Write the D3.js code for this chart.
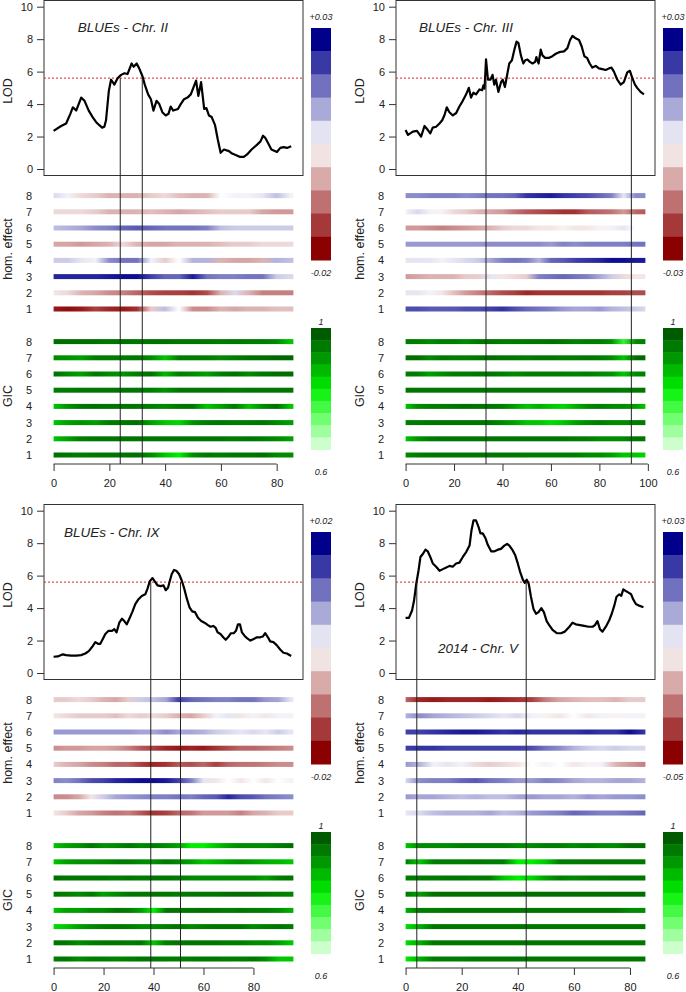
<!DOCTYPE html>
<html><head><meta charset="utf-8">
<script src="https://cdn.jsdelivr.net/npm/d3@7"></script>
<style>body{margin:0;background:#fff}svg{display:block}text{font-family:"Liberation Sans",Arial,sans-serif;fill:#222}</style>
</head><body><svg id="c" width="686" height="992"></svg>
<script>
// ---------------- DATA ----------------
const panelTitles = ["BLUEs - Chr. II", "BLUEs - Chr. III", "BLUEs - Chr. IX", "2014 - Chr. V"];
const chrLength = [86, 99, 96, 85.5];
const xTickValues = [[0,20,40,60,80],[0,20,40,60,80,100],[0,20,40,60,80],[0,20,40,60,80]];
const lodTicks = [0,2,4,6,8,10];
const rowLabels = [1,2,3,4,5,6,7,8];
const lodThreshold = 5.6;
const markerPos = [[23.9,31.8],[33.2,93.2],[38.9,50.8],[4.0,43.0]];
const legendMaxLabel = ["+0.03","+0.03","+0.02","+0.03"];
const legendMinLabel = ["-0.02","-0.03","-0.02","-0.05"];
const gicLegendLabels = ["1","0.6"];

const lodPosII = [0,2.7,4.5,6.0,6.9,8.1,9.0,9.9,11.1,12.6,14.0,15.2,16.4,17.4,18.2,18.8,19.8,20.6,21.8,23.0,24.2,25.4,26.5,28.0,28.7,29.8,30.7,31.9,32.7,33.9,34.9,35.8,36.9,37.9,39.0,40.2,41.2,42.0,42.9,44.6,45.6,46.8,48.0,49.2,50.1,51.1,51.9,52.9,54.0,54.8,55.7,56.7,57.9,58.9,59.9,61.1,62.9,64.0,65.5,66.7,68.2,69.4,71.0,73.0,74.2,75.1,76.0,76.9,78.1,80.1,81.3,82.5,83.7,85.2];
const lodValII = [2.35,2.65,2.8,3.4,3.8,3.6,4.0,4.4,4.2,3.6,3.2,2.9,2.7,2.55,2.6,3.0,4.8,5.5,5.2,5.6,5.8,5.9,5.85,6.5,6.3,6.5,6.2,5.7,5.2,4.6,4.3,3.6,4.2,4.0,3.5,3.3,3.4,3.85,3.6,3.7,4.0,4.3,4.4,4.6,5.0,5.45,4.5,5.35,3.7,3.75,3.3,3.2,2.7,1.8,1.0,1.2,1.1,0.95,0.85,0.75,0.75,0.9,1.2,1.5,1.7,2.05,1.9,1.6,1.2,1.05,1.3,1.35,1.3,1.4];

const lodPosIII = [0,1.0,3.0,4.7,6.4,7.8,9.2,10.2,11.2,12.6,14.0,15.1,16.0,17.0,18.1,19.5,20.9,22.2,23.6,25.0,26.1,27.0,28.0,29.1,30.5,31.6,32.1,32.6,33.2,34.0,35.0,35.9,36.6,37.3,38.3,39.4,40.1,41.0,41.8,42.8,43.9,44.9,45.8,46.6,47.6,48.6,49.4,50.3,51.3,52.4,53.5,54.0,54.9,55.8,56.5,57.6,59.3,60.6,62.0,63.4,65.4,66.8,67.9,68.9,70.2,71.6,72.7,73.8,74.9,76.0,77.1,78.5,79.8,81.2,82.6,84.0,85.0,86.0,87.4,88.8,90.1,91.5,92.6,93.6,94.7,95.6,97.0,98.4];
const lodValIII = [2.4,2.1,2.3,2.35,1.99,2.65,2.4,2.2,2.55,2.6,2.8,3.0,3.3,3.8,3.5,3.3,3.45,3.85,4.2,4.6,5.0,4.4,4.7,4.6,4.9,4.85,5.15,4.95,6.75,5.5,5.5,5.8,5.2,5.5,4.75,5.35,5.5,5.05,5.7,6.5,6.7,7.35,7.85,7.75,7.0,6.5,6.7,6.75,6.6,6.5,6.6,6.9,6.5,7.35,7.0,6.85,6.85,6.95,7.1,7.2,7.25,7.45,7.95,8.2,8.05,7.95,7.55,6.95,6.85,6.5,6.25,6.35,6.2,6.15,6.1,6.2,6.25,6.0,5.5,5.2,5.35,5.95,6.05,5.6,5.2,5.0,4.75,4.6];

const lodPosIX = [0,1.7,3.7,5.0,7.0,9.0,11.0,12.7,14.1,15.4,16.7,17.8,18.7,19.7,20.7,22.0,23.4,24.3,25.2,26.3,27.4,28.3,29.3,30.5,31.6,32.7,34.0,35.3,36.7,37.6,38.5,39.6,40.5,41.6,42.9,44.0,44.9,45.8,46.5,47.3,48.2,49.1,50.2,51.3,52.3,53.4,54.4,55.5,56.6,57.8,59.1,60.4,61.8,62.8,63.9,64.8,65.7,66.8,67.9,68.9,70.1,71.0,72.1,73.0,73.8,74.6,75.4,76.4,77.4,78.8,80.1,81.4,82.7,83.8,84.7,85.8,86.7,88.0,89.4,90.7,92.0,93.4,95.1];
const lodValIX = [1.0,1.02,1.15,1.1,1.07,1.07,1.1,1.2,1.35,1.6,1.9,1.8,1.8,2.1,2.4,2.6,2.6,2.7,2.5,3.1,3.35,3.2,3.0,3.4,3.8,4.25,4.55,4.75,4.85,5.2,5.65,5.85,5.65,5.4,5.35,5.4,5.1,5.25,5.65,6.1,6.35,6.3,6.1,5.7,5.2,4.55,4.05,3.8,3.75,3.4,3.2,3.1,2.95,2.85,2.9,2.8,2.5,2.4,2.2,2.05,2.25,2.45,2.45,2.6,3.0,3.0,2.5,2.3,2.15,2.0,2.1,2.2,2.2,2.25,2.45,2.2,1.95,1.9,1.7,1.45,1.25,1.2,1.05];

const lodPosV = [0,1.2,2.3,3.0,3.8,4.6,5.3,6.2,7.1,7.9,8.8,9.7,10.9,12.1,13.3,14.5,15.7,16.8,18.0,19.2,20.4,21.6,22.8,23.5,24.2,25.1,26.0,26.7,27.5,28.5,29.3,30.5,31.7,32.9,34.0,35.2,36.2,37.0,38.2,39.1,40.0,40.8,41.8,42.5,43.2,43.9,44.7,45.6,46.5,47.4,48.4,49.3,50.3,51.2,52.4,53.9,55.4,56.8,58.4,59.5,60.7,62.2,63.7,65.2,66.7,67.5,68.4,69.3,70.2,71.4,72.6,73.5,74.4,75.2,76.2,76.9,77.6,78.5,79.5,80.4,81.1,82.1,83.3,84.8];
const lodValV = [3.4,3.4,3.85,4.45,5.5,6.3,7.15,7.35,7.6,7.5,7.15,6.75,6.55,6.3,6.4,6.5,6.6,6.55,6.75,6.8,7.15,7.45,7.85,8.8,9.4,9.4,9.0,8.6,8.6,8.3,7.9,7.5,7.5,7.6,7.65,7.85,7.95,7.85,7.55,7.25,6.75,6.25,5.75,5.55,5.75,5.5,4.7,3.95,3.65,3.75,4.0,3.75,3.2,2.95,2.65,2.45,2.45,2.55,2.85,3.1,3.0,2.95,2.9,2.85,2.85,2.95,3.2,2.7,2.55,2.85,3.25,3.65,4.15,4.7,4.85,4.75,5.15,5.05,4.95,4.85,4.55,4.25,4.15,4.05];

// strip sample positions (cM)
const stripPosII  = [0,5,10,15,20,25,30,35,40,45,50,55,60,65,70,75,80,85];
const stripPosIII = [0,5,10,15,20,25,30,35,40,45,50,55,60,65,70,75,80,85,90,95,99];
const stripPosIX  = [0,5,10,15,20,25,30,35,40,45,50,55,60,65,70,75,80,85,90,95];
const stripPosV   = [0,5,10,15,20,25,30,35,40,45,50,55,60,65,70,75,80,85];

// homozygous effect, relative to legend range (-1 .. +1), rows 1..8
const homII = [
 [-0.9,-0.95,-0.9,-0.75,-0.85,-0.9,-0.8,-0.2,0.25,0,-0.45,-0.45,-0.3,-0.35,-0.3,-0.3,-0.25,-0.25],
 [-0.1,-0.15,-0.3,-0.35,-0.45,-0.5,-0.6,-0.7,-0.75,-0.75,-0.8,-0.7,-0.3,0.15,-0.3,-0.5,-0.5,-0.5],
 [0.85,0.85,0.85,0.85,0.9,0.95,0.95,0.75,0.6,0.6,0.9,0.55,0.5,0.5,0.55,0.55,0.2,0.15],
 [0.2,0.2,0.1,0.05,0.45,0.55,0.55,0.05,-0.2,0,0.3,0.3,-0.3,-0.35,-0.35,-0.3,0.3,0.25],
 [-0.35,-0.35,-0.4,-0.35,-0.3,-0.15,-0.3,-0.35,-0.35,-0.3,-0.3,-0.3,-0.25,-0.2,-0.2,-0.15,-0.15,-0.15],
 [0.25,0.3,0.35,0.45,0.5,0.6,0.65,0.6,0.55,0.55,0.55,0.5,0.25,0.2,0.2,0.2,0.2,0.2],
 [-0.15,-0.15,-0.15,-0.2,-0.3,-0.3,-0.3,-0.25,-0.3,-0.35,-0.3,-0.25,-0.2,-0.2,-0.2,-0.35,-0.4,-0.4],
 [0.15,0.05,-0.15,-0.2,-0.3,-0.3,-0.3,-0.2,-0.15,-0.25,-0.3,-0.3,0,0.05,0.05,0.1,0.25,0.05]
];
const homIII = [
 [0.7,0.7,0.65,0.65,0.65,0.7,0.7,0.75,0.8,0.7,0.6,0.55,0.5,0.4,0.35,0.35,0.4,0.3,0.25,0.2,0.15],
 [0.1,0.1,0.05,-0.1,-0.25,-0.4,-0.5,-0.6,-0.7,-0.75,-0.85,-0.8,-0.8,-0.8,-0.8,-0.8,-0.8,-0.75,-0.75,-0.7,-0.7],
 [-0.4,-0.35,-0.3,-0.3,-0.3,-0.2,-0.2,0.1,-0.1,-0.15,-0.2,0.5,0.55,0.6,0.55,0.5,0.35,0.2,-0.15,-0.1,-0.1],
 [0.1,0.1,0.1,0.05,0.1,0.15,0.2,0.35,0.5,0.55,0.5,0.3,0.6,0.65,0.75,0.8,0.85,0.95,0.95,0.9,0.9],
 [0.4,0.4,0.4,0.4,0.4,0.4,0.4,0.45,0.45,0.45,0.45,0.45,0.4,0.5,0.45,0.5,0.5,0.5,0.5,0.55,0.55],
 [-0.4,-0.4,-0.45,-0.5,-0.45,-0.4,-0.35,-0.3,-0.2,-0.15,-0.15,-0.1,-0.1,-0.05,-0.1,-0.1,-0.05,0.05,0.1,0,0],
 [0.05,0.15,0.05,-0.05,-0.15,-0.2,-0.3,-0.35,-0.4,-0.55,-0.65,-0.7,-0.75,-0.8,-0.8,-0.65,-0.6,-0.55,-0.4,-0.6,-0.65],
 [0.45,0.45,0.5,0.5,0.5,0.45,0.5,0.55,0.55,0.6,0.8,0.85,0.9,0.8,0.75,0.7,0.6,0.5,0.1,0.45,0.45]
];
const homIX = [
 [-0.1,-0.2,-0.35,-0.4,-0.5,-0.55,-0.5,-0.65,-0.8,-0.75,-0.6,-0.55,-0.4,-0.4,-0.4,-0.5,-0.35,-0.3,-0.2,-0.2],
 [-0.45,-0.45,-0.35,-0.1,0.2,0.35,0.4,0.45,0.5,0.5,0.55,0.5,0.6,0.65,0.85,0.7,0.65,0.55,0.5,0.45],
 [0.5,0.45,0.55,0.7,0.75,0.85,0.9,0.95,0.95,0.9,0.75,0.5,0.1,-0.1,0,-0.1,0,-0.1,0,0.05],
 [-0.2,-0.3,-0.35,-0.45,-0.5,-0.6,-0.6,-0.75,-0.85,-0.8,-0.65,-0.7,-0.6,-0.75,-0.6,-0.55,-0.55,-0.5,-0.45,-0.45],
 [-0.45,-0.4,-0.4,-0.35,-0.35,-0.4,-0.5,-0.65,-0.75,-0.85,-0.9,-0.85,-0.9,-0.8,-0.7,-0.6,-0.6,-0.55,-0.5,-0.45],
 [0.4,0.4,0.4,0.4,0.4,0.4,0.4,0.35,0.35,0.45,0.35,0.35,0.3,0.2,0.15,0.1,0.15,0.1,0.2,0.1],
 [-0.1,-0.15,-0.2,-0.2,-0.2,-0.25,-0.15,-0.2,-0.15,-0.2,-0.3,-0.35,-0.2,0.05,0.1,-0.1,0.05,-0.1,0.05,0.05],
 [-0.2,-0.2,-0.15,-0.2,-0.3,-0.35,-0.2,0.2,0.25,0.35,0.75,0.6,0.55,0.5,0.5,0.55,0.55,0.4,0.35,0.1]
];
const homV = [
 [0.1,0.15,0.25,0.3,0.3,0.3,0.35,0.25,0.3,0.4,0.45,0.5,0.6,0.55,0.5,0.5,0.55,0.6],
 [0.4,0.35,0.35,0.3,0.25,0.3,0.25,0.25,0.35,0.4,0.35,0.35,0.3,0.4,0.35,0.4,0.4,0.45],
 [0.15,0.45,0.5,0.5,0.6,0.65,0.55,0.5,0.4,0.4,0.5,0.45,0.35,0.3,0.3,0.35,0.35,0.3],
 [0.4,0.3,0.05,0.1,0.05,-0.15,-0.2,-0.15,-0.1,0,0.05,0,-0.1,-0.05,0.05,-0.3,-0.4,-0.5],
 [0.75,0.8,0.8,0.75,0.75,0.75,0.75,0.75,0.75,0.7,0.55,0.45,0.3,0.2,0.15,0.2,0.15,0.15],
 [0.75,0.75,0.8,0.85,0.9,0.9,0.85,0.8,0.85,0.8,0.8,0.8,0.8,0.85,0.8,0.8,0.95,0.8],
 [0.3,0.45,0.35,0.3,0.25,0.2,0.15,0.1,0.15,0.05,-0.05,-0.1,0,-0.1,0.05,-0.05,0.05,0.05],
 [-0.6,-0.85,-0.9,-0.85,-0.85,-0.85,-0.9,-0.85,-0.8,-0.75,-0.5,-0.35,-0.3,-0.25,-0.25,-0.3,-0.2,-0.2]
];

// GIC (0.6 .. 1), rows 1..8
const gicII = [
 [0.97,0.96,0.95,0.96,0.96,0.96,0.97,0.93,0.85,0.8,0.93,0.96,0.95,0.96,0.96,0.97,0.93,0.93],
 [0.85,0.9,0.95,0.96,0.96,0.96,0.96,0.96,0.96,0.96,0.96,0.96,0.96,0.95,0.96,0.95,0.93,0.9],
 [0.85,0.9,0.92,0.9,0.95,0.96,0.97,0.9,0.85,0.83,0.92,0.95,0.96,0.95,0.95,0.96,0.93,0.9],
 [0.85,0.92,0.96,0.97,0.96,0.96,0.96,0.95,0.93,0.96,0.96,0.85,0.9,0.96,0.85,0.93,0.97,0.85],
 [0.95,0.95,0.96,0.96,0.96,0.96,0.96,0.95,0.92,0.96,0.96,0.96,0.96,0.95,0.96,0.96,0.96,0.96],
 [0.97,0.93,0.9,0.96,0.93,0.92,0.95,0.97,0.87,0.95,0.93,0.9,0.95,0.97,0.93,0.96,0.97,0.97],
 [0.93,0.92,0.9,0.95,0.95,0.95,0.96,0.93,0.85,0.95,0.95,0.95,0.93,0.95,0.97,0.97,0.98,0.98],
 [0.97,0.97,0.97,0.97,0.96,0.97,0.96,0.97,0.97,0.96,0.96,0.96,0.95,0.96,0.95,0.95,0.93,0.85]
];
const gicIII = [
 [0.93,0.95,0.96,0.96,0.96,0.96,0.96,0.96,0.96,0.96,0.95,0.95,0.95,0.95,0.95,0.93,0.93,0.9,0.85,0.85,0.83],
 [0.85,0.92,0.95,0.96,0.96,0.96,0.96,0.96,0.96,0.96,0.96,0.96,0.96,0.96,0.95,0.95,0.93,0.93,0.93,0.96,0.96],
 [0.95,0.95,0.96,0.96,0.96,0.96,0.96,0.96,0.93,0.9,0.85,0.85,0.82,0.85,0.9,0.93,0.95,0.93,0.93,0.95,0.95],
 [0.85,0.93,0.95,0.95,0.96,0.97,0.96,0.96,0.95,0.9,0.85,0.88,0.85,0.83,0.88,0.93,0.95,0.93,0.93,0.9,0.85],
 [0.96,0.96,0.96,0.96,0.96,0.96,0.96,0.96,0.96,0.96,0.96,0.96,0.96,0.96,0.96,0.96,0.96,0.96,0.95,0.96,0.96],
 [0.95,0.95,0.9,0.93,0.95,0.95,0.96,0.96,0.95,0.93,0.95,0.95,0.95,0.95,0.94,0.95,0.93,0.92,0.85,0.93,0.95],
 [0.97,0.97,0.93,0.96,0.95,0.95,0.96,0.97,0.96,0.96,0.95,0.96,0.96,0.95,0.95,0.96,0.95,0.93,0.85,0.97,0.98],
 [0.95,0.95,0.93,0.95,0.95,0.93,0.96,0.96,0.95,0.95,0.96,0.96,0.97,0.96,0.94,0.95,0.95,0.92,0.75,0.93,0.95]
];
const gicIX = [
 [0.95,0.96,0.93,0.95,0.95,0.94,0.95,0.96,0.96,0.95,0.95,0.95,0.96,0.96,0.95,0.95,0.96,0.93,0.85,0.85],
 [0.96,0.96,0.93,0.95,0.96,0.96,0.95,0.96,0.85,0.95,0.96,0.96,0.96,0.96,0.95,0.95,0.93,0.93,0.9,0.85],
 [0.82,0.85,0.9,0.93,0.95,0.96,0.95,0.93,0.93,0.95,0.96,0.93,0.95,0.96,0.96,0.96,0.93,0.95,0.96,0.95],
 [0.85,0.9,0.9,0.93,0.93,0.96,0.95,0.9,0.8,0.96,0.96,0.96,0.97,0.96,0.95,0.96,0.95,0.95,0.93,0.88],
 [0.96,0.95,0.93,0.96,0.9,0.93,0.96,0.96,0.96,0.96,0.95,0.96,0.96,0.96,0.97,0.97,0.97,0.96,0.95,0.94],
 [0.97,0.96,0.96,0.96,0.96,0.95,0.96,0.95,0.96,0.96,0.95,0.93,0.93,0.93,0.93,0.93,0.93,0.9,0.95,0.96],
 [0.85,0.9,0.92,0.92,0.93,0.95,0.95,0.93,0.92,0.96,0.93,0.9,0.85,0.87,0.9,0.92,0.9,0.88,0.87,0.85],
 [0.85,0.9,0.92,0.96,0.92,0.93,0.96,0.93,0.95,0.93,0.9,0.8,0.8,0.85,0.9,0.93,0.93,0.93,0.95,0.97]
];
const gicV = [
 [0.8,0.88,0.95,0.95,0.95,0.96,0.96,0.96,0.96,0.96,0.96,0.96,0.96,0.96,0.96,0.96,0.96,0.96],
 [0.82,0.88,0.96,0.96,0.96,0.96,0.96,0.96,0.96,0.96,0.96,0.96,0.96,0.96,0.96,0.96,0.96,0.96],
 [0.82,0.88,0.96,0.96,0.96,0.96,0.96,0.96,0.96,0.96,0.96,0.96,0.96,0.96,0.96,0.96,0.96,0.96],
 [0.88,0.95,0.95,0.96,0.96,0.96,0.96,0.96,0.96,0.96,0.96,0.96,0.96,0.96,0.96,0.96,0.93,0.93],
 [0.96,0.9,0.97,0.97,0.97,0.97,0.97,0.97,0.97,0.97,0.97,0.97,0.97,0.97,0.97,0.97,0.97,0.97],
 [0.95,0.95,0.95,0.96,0.96,0.95,0.95,0.85,0.8,0.83,0.9,0.95,0.93,0.95,0.95,0.96,0.96,0.96],
 [0.95,0.85,0.95,0.95,0.95,0.96,0.95,0.95,0.8,0.8,0.85,0.95,0.95,0.96,0.96,0.96,0.96,0.96],
 [0.85,0.93,0.93,0.93,0.95,0.95,0.95,0.95,0.93,0.93,0.95,0.95,0.93,0.95,0.93,0.93,0.97,0.97]
];

// ---------------- LAYOUT ----------------
const panels = [
  {i:0, dx:0,   dy:0,   lodPos:lodPosII,  lodVal:lodValII,  sPos:stripPosII,  hom:homII,  gic:gicII,  tx:77.7, ty:32,  anchor:"start"},
  {i:1, dx:352, dy:0,   lodPos:lodPosIII, lodVal:lodValIII, sPos:stripPosIII, hom:homIII, gic:gicIII, tx:67,   ty:32,  anchor:"start"},
  {i:2, dx:0,   dy:504, lodPos:lodPosIX,  lodVal:lodValIX,  sPos:stripPosIX,  hom:homIX,  gic:gicIX,  tx:64,   ty:32.5,anchor:"start"},
  {i:3, dx:352, dy:504, lodPos:lodPosV,   lodVal:lodValV,   sPos:stripPosV,   hom:homV,   gic:gicV,   tx:126,  ty:149, anchor:"middle"}
];
const L = {boxL:44, boxR:303, boxT:0.5, boxB:175.5, y0:169, y10:6.7,
           homRow1:309, gicRow1:455, rowStep:16.2, stripH:5, axisY:464,
           legX:311, legW:20, homLegT:28, homLegB:260, gicLegT:328, gicLegB:449.5};

const homColor = d3.scaleLinear().domain([-1,0,1]).range(["#8b0000","#ffffff","#00008b"]).clamp(true);
const gicColor = d3.scaleLinear().domain([0.6,0.7,0.8,0.9,1]).range(["#ccffcc","#66ff66","#00ee00","#00a000","#005a00"]).clamp(true);

const svg = d3.select("#c");
const defs = svg.append("defs");

panels.forEach(p => {
  const g = svg.append("g").attr("transform", `translate(${p.dx},${p.dy})`);
  const len = chrLength[p.i];
  const ext = len*0.04;
  const x = d3.scaleLinear().domain([-ext, len+ext]).range([L.boxL, L.boxR]);
  const y = d3.scaleLinear().domain([0,10]).range([L.y0, L.y10]);
  const yHom = d3.scaleLinear().domain([1,8]).range([L.homRow1, L.homRow1 - 7*L.rowStep]);
  const yGic = d3.scaleLinear().domain([1,8]).range([L.gicRow1, L.gicRow1 - 7*L.rowStep]);

  // strips
  function strips(data, yS, color, key){
    data.forEach((row, r) => {
      const id = `g${p.i}${key}${r}`;
      const grad = defs.append("linearGradient").attr("id", id)
        .attr("gradientUnits","userSpaceOnUse").attr("x1", x(0)).attr("x2", x(len)).attr("y1",0).attr("y2",0);
      row.forEach((v, k) => grad.append("stop").attr("offset", p.sPos[k]/len).attr("stop-color", color(v)));
      g.append("rect").attr("x", x(0)).attr("width", x(len)-x(0))
        .attr("y", yS(rowLabels[r]) - L.stripH/2).attr("height", L.stripH)
        .attr("fill", `url(#${id})`);
    });
    rowLabels.forEach(lb => g.append("text").attr("x", 32).attr("y", yS(lb)).attr("dy","0.36em")
      .attr("text-anchor","end").attr("font-size", 11).text(lb));
  }
  strips(p.hom, yHom, homColor, "h");
  strips(p.gic, yGic, gicColor, "c");

  // box
  g.append("rect").attr("x", L.boxL).attr("y", L.boxT).attr("width", L.boxR-L.boxL).attr("height", L.boxB-L.boxT)
    .attr("fill","none").attr("stroke","#333").attr("stroke-width",1);

  // y axis (LOD)
  const ya = g.append("g").attr("transform", `translate(${L.boxL},0)`)
    .call(d3.axisLeft(y).tickValues(lodTicks).tickSize(7).tickPadding(4).tickFormat(d3.format("d")));
  ya.select(".domain").remove();
  ya.selectAll("line").attr("stroke","#333");
  ya.selectAll("text").attr("font-size", 11).attr("font-family","Liberation Sans, Arial, sans-serif").attr("fill","#222");

  // threshold
  g.append("line").attr("x1", L.boxL).attr("x2", L.boxR).attr("y1", y(lodThreshold)).attr("y2", y(lodThreshold))
    .attr("stroke","#e02020").attr("stroke-width",1).attr("stroke-dasharray","2,2");

  // LOD curve
  const pts = p.lodPos.map((d,k)=>[d, p.lodVal[k]]);
  g.append("path").datum(pts).attr("fill","none").attr("stroke","#000").attr("stroke-width",2.2)
    .attr("stroke-linejoin","round")
    .attr("d", d3.line().x(d=>x(d[0])).y(d=>y(d[1])));

  // marker lines
  markerPos[p.i].forEach(m => g.append("line").attr("x1", x(m)).attr("x2", x(m))
    .attr("y1", y(lodThreshold)).attr("y2", L.axisY).attr("stroke","#222").attr("stroke-width",1));

  // x axis
  const xt = xTickValues[p.i];
  const xa = g.append("g").attr("transform", `translate(0,${L.axisY})`)
    .call(d3.axisBottom(x).tickValues(xt).tickSize(7).tickPadding(8).tickFormat(d3.format("d")));
  xa.select(".domain").attr("d", `M${x(xt[0])},0H${x(xt[xt.length-1])}`).attr("stroke","#333");
  xa.selectAll("line").attr("stroke","#333");
  xa.selectAll("text").attr("font-size", 11).attr("font-family","Liberation Sans, Arial, sans-serif").attr("fill","#222");

  // axis titles
  const at = (txt, cy) => g.append("text").attr("transform", `translate(12,${cy}) rotate(-90)`)
    .attr("text-anchor","middle").attr("font-size",12.5).text(txt);
  at("LOD", 91); at("hom. effect", 249); at("GIC", 396);

  // panel title
  g.append("text").attr("x", p.tx).attr("y", p.ty).attr("text-anchor", p.anchor)
    .attr("font-size", 13.5).attr("font-style","italic").text(panelTitles[p.i]);

  // hom legend (10 bins)
  const nb = 10, bh = (L.homLegB - L.homLegT)/nb;
  d3.range(nb).forEach(k => g.append("rect").attr("x", L.legX).attr("width", L.legW)
    .attr("y", L.homLegT + k*bh).attr("height", bh+0.5).attr("fill", homColor(1 - 2*k/(nb-1))));
  g.append("text").attr("x", L.legX+L.legW/2).attr("y", 20).attr("text-anchor","middle")
    .attr("font-size",9).attr("font-style","italic").text(legendMaxLabel[p.i]);
  g.append("text").attr("x", L.legX+L.legW/2).attr("y", 276).attr("text-anchor","middle")
    .attr("font-size",9).attr("font-style","italic").text(legendMinLabel[p.i]);

  // gic legend (10 bins)
  const gb = (L.gicLegB - L.gicLegT)/nb;
  d3.range(nb).forEach(k => g.append("rect").attr("x", L.legX).attr("width", L.legW)
    .attr("y", L.gicLegT + k*gb).attr("height", gb+0.5).attr("fill", gicColor(1 - 0.4*k/(nb-1))));
  g.append("text").attr("x", L.legX+L.legW/2).attr("y", 325).attr("text-anchor","middle")
    .attr("font-size",9).attr("font-style","italic").text(gicLegendLabels[0]);
  g.append("text").attr("x", L.legX+L.legW/2).attr("y", 475).attr("text-anchor","middle")
    .attr("font-size",9).attr("font-style","italic").text(gicLegendLabels[1]);
});
</script></body></html>
